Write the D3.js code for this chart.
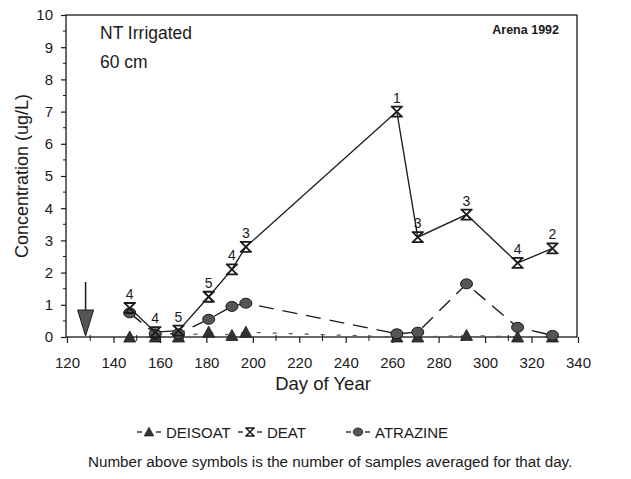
<!DOCTYPE html>
<html>
<head>
<meta charset="utf-8">
<script src="https://cdn.jsdelivr.net/npm/d3@7"></script>
<style>
  body { margin: 0; background: #fff; }
  svg { display: block; }
  text { font-family: "Liberation Sans", Arial, sans-serif; fill: #1a1a1a; }
</style>
</head>
<body>
<div id="chart"></div>
<script>
// Data (Arena 1992, NT irrigated, 60 cm)
var days = [147, 158, 168, 181, 191, 197, 262, 271, 292, 314, 329];
var deisoat = [0, 0, 0, 0.15, 0.05, 0.15, 0, 0, 0.05, 0, 0];
var deat = [0.9, 0.15, 0.2, 1.25, 2.1, 2.8, 7.0, 3.1, 3.8, 2.3, 2.75];
var atrazine = [0.75, 0.1, 0.1, 0.55, 0.95, 1.05, 0.1, 0.15, 1.65, 0.3, 0.05];
var sampleCounts = [4, 4, 5, 5, 4, 3, 1, 3, 3, 4, 2];
var xTicks = [120, 140, 160, 180, 200, 220, 240, 260, 280, 300, 320, 340];
var yTicks = [0, 1, 2, 3, 4, 5, 6, 7, 8, 9, 10];
var applicationDay = 128;

var W = 631, H = 479;
var plotLeft = 66, plotRight = 577, plotTop = 15, plotBottom = 337;
var ink = "#1a1a1a";

var svg = d3.select("#chart").append("svg").attr("width", W).attr("height", H);

var x = d3.scaleLinear().domain([120, 340]).range([67, 578]);
var y = d3.scaleLinear().domain([0, 10]).range([plotBottom, plotTop]);

//frame
svg.append("rect").attr("x", plotLeft).attr("y", plotTop).attr("width", plotRight - plotLeft).attr("height", plotBottom - plotTop)
  .attr("fill", "none").attr("stroke", ink).attr("stroke-width", 1.3);

//y axis
var yAxis = d3.axisLeft(y).tickValues(yTicks).tickSize(5).tickPadding(8);
var gy = svg.append("g").attr("transform", "translate(" + plotLeft + ",0)").call(yAxis);
gy.select(".domain").remove();
gy.selectAll("text").style("font-size", "15px");
gy.selectAll("line").attr("stroke", ink).attr("stroke-width", 1.2);
// minor y ticks
svg.selectAll("line.ymin").data(d3.range(0.5, 10, 1)).enter().append("line")
  .attr("x1", plotLeft - 3).attr("x2", plotLeft).attr("y1", d => y(d)).attr("y2", d => y(d))
  .attr("stroke", ink).attr("stroke-width", 1);

//x axis
var xAxis = d3.axisBottom(x).tickValues(xTicks).tickSize(6).tickPadding(14);
var gx = svg.append("g").attr("transform", "translate(0," + plotBottom + ")").call(xAxis);
gx.select(".domain").remove();
gx.selectAll("text").style("font-size", "15px");
gx.selectAll("line").attr("stroke", ink).attr("stroke-width", 1.2);
svg.selectAll("line.xmin").data(d3.range(130, 340, 20)).enter().append("line")
  .attr("x1", d => x(d)).attr("x2", d => x(d)).attr("y1", plotBottom - 2).attr("y2", plotBottom + 4)
  .attr("stroke", ink).attr("stroke-width", 1);

//axis titles
svg.append("text").attr("transform", "translate(28," + ((plotTop + plotBottom) / 2) + ") rotate(-90)")
  .attr("text-anchor", "middle").style("font-size", "18px").text("Concentration (ug/L)");
svg.append("text").attr("x", 323).attr("y", 390).attr("text-anchor", "middle")
  .style("font-size", "18.5px").text("Day of Year");

//annotations
svg.append("text").attr("x", 100).attr("y", 39).style("font-size", "17.5px").text("NT Irrigated");
svg.append("text").attr("x", 100).attr("y", 68).style("font-size", "17.5px").text("60 cm");
svg.append("text").attr("x", 559).attr("y", 34).attr("text-anchor", "end").style("font-size", "12.5px")
  .style("font-weight", "bold").text("Arena 1992");

//application arrow
var ax = x(applicationDay);
svg.append("line").attr("x1", ax).attr("x2", ax).attr("y1", 282).attr("y2", 312)
  .attr("stroke", ink).attr("stroke-width", 1.5);
svg.append("path").attr("d", "M" + (ax - 8) + ",310 L" + (ax + 8) + ",310 L" + ax + "," + (plotBottom - 1) + "Z")
  .attr("fill", "#555").attr("stroke", ink).attr("stroke-width", 1);

//series lines
function drawLine(vals, dash, width, color)
{
  var line = d3.line().x((d, i) => x(days[i])).y(d => y(d));
  svg.append("path").datum(vals).attr("d", line).attr("fill", "none")
    .attr("stroke", color).attr("stroke-width", width).attr("stroke-dasharray", dash);
}
drawLine(deisoat, "4,12", 1.2, "#555");
drawLine(atrazine, "15,9", 1.4, ink);
drawLine(deat, null, 1.3, ink);

//marker shapes
function triangle(g) {
  g.append("path").attr("d", "M0,-6 L6,5 L-6,5Z").attr("fill", "#333").attr("stroke", ink).attr("stroke-width", 0.8);
}
function bowtie(g) {
  g.append("path").attr("d", "M-6,-5 L6,-5 M-6,5 L6,5 M-5,-5 L5,5 M5,-5 L-5,5")
    .attr("fill", "none").attr("stroke", ink).attr("stroke-width", 1.8);
}
function blob(g) {
  g.append("ellipse").attr("rx", 6).attr("ry", 5).attr("fill", "#555").attr("stroke", ink).attr("stroke-width", 1);
}

function drawMarkers(vals, shape)
{
  vals.forEach(function(v, i) {
    var g = svg.append("g").attr("transform", "translate(" + x(days[i]) + "," + y(v) + ")");
    shape(g);
  });
}
drawMarkers(deisoat, triangle);
drawMarkers(atrazine, blob);
drawMarkers(deat, bowtie);

//sample counts above the DEAT symbols
svg.selectAll("text.count").data(sampleCounts).enter().append("text")
  .attr("x", (d, i) => x(days[i])).attr("y", (d, i) => y(deat[i]) - 9)
  .attr("text-anchor", "middle").style("font-size", "14px").text(d => d);

//legend
var legendItems = [
  {label: "DEISOAT", shape: triangle, x: 137},
  {label: "DEAT", shape: bowtie, x: 238},
  {label: "ATRAZINE", shape: blob, x: 346}
];
legendItems.forEach(function(item) {
  var g = svg.append("g").attr("transform", "translate(" + item.x + ",432)");
  g.append("line").attr("x1", 0).attr("x2", 5).attr("stroke", ink).attr("stroke-width", 1.3);
  g.append("line").attr("x1", 19).attr("x2", 24).attr("stroke", ink).attr("stroke-width", 1.3);
  var m = g.append("g").attr("transform", "translate(12,0) scale(0.8)");
  item.shape(m);
  g.append("text").attr("x", 29).attr("y", 6).style("font-size", "15px").text(item.label);
});

svg.append("text").attr("x", 88).attr("y", 467).style("font-size", "15.2px")
  .text("Number above symbols is the number of samples averaged for that day.");
</script>
</body>
</html>
